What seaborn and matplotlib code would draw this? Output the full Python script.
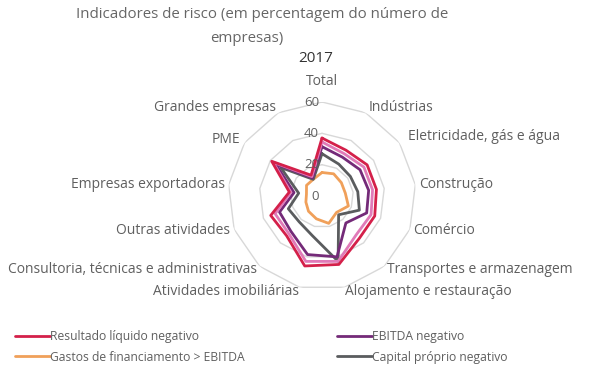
import numpy as np
import pandas as pd
import matplotlib
matplotlib.use("Agg")
import matplotlib.pyplot as plt
from matplotlib.lines import Line2D
from matplotlib.transforms import offset_copy
import seaborn as sns

sns.set_theme(style="white")
plt.rcParams["font.family"] = ["Open Sans", "DejaVu Sans"]

categories = ["Total", "Indústrias", "Eletricidade, gás e água", "Construção",
              "Comércio", "Transportes e armazenagem", "Alojamento e restauração",
              "Atividades imobiliárias", "Consultoria, técnicas e administrativas",
              "Outras atividades", "Empresas exportadoras", "PME", "Grandes empresas"]

resultado = [37, 33, 35, 35, 36, 36, 45, 46, 34, 35, 21, 39, 15]
extra_pink = [34.5, 30.5, 32.5, 32.5, 33.5, 33, 43, 43, 32, 32, 20, 38, 14]
ebitda = [31.5, 28, 29.5, 30, 30.5, 23, 40, 38.5, 30, 29, 18, 36, 13]
capital = [27, 23, 22, 23, 25.5, 16, 43, 26, 22, 23, 15, 32, 12]
gastos = [15, 16, 15, 15, 18, 14, 18, 15, 13, 11, 10, 12, 12]

series_names = ["Gastos de financiamento > EBITDA", "Capital próprio negativo",
                "EBITDA negativo", "_extra", "Resultado líquido negativo"]
series_values = [gastos, capital, ebitda, extra_pink, resultado]
palette = {"Resultado líquido negativo": "#d4204a",
           "_extra": "#e07ab8",
           "EBITDA negativo": "#742a78",
           "Capital próprio negativo": "#5a5c5e",
           "Gastos de financiamento > EBITDA": "#f0a05a"}

ticks = [0, 20, 40, 60]

n = len(categories)
theta = np.linspace(0, 2 * np.pi, n, endpoint=False)
theta_c = np.append(theta, 2 * np.pi)

rows = []
for name, vals in zip(series_names, series_values):
    vc = list(vals) + [vals[0]]
    for t, v in zip(theta_c, vc):
        rows.append({"theta": t, "value": v, "series": name})
df = pd.DataFrame(rows)

W, H = 605, 381
fig = plt.figure(figsize=(W / 100, H / 100), dpi=100)
cx, cy, R = 322, 196, 94
ax = fig.add_axes([(cx - R) / W, (H - cy - R) / H, 2 * R / W, 2 * R / H], projection="polar")
ax.set_theta_zero_location("N")
ax.set_theta_direction(-1)
ax.set_ylim(0, 60)
ax.grid(False)
ax.spines["polar"].set_visible(False)
ax.set_facecolor("none")

# polygon grid
for r in ticks[1:]:
    ax.plot(theta_c, [r] * len(theta_c), color="#d8d8d8", lw=1.0, zorder=1)

for name, vals in zip(series_names, series_values):
    sub = df[df["series"] == name]
    sns.lineplot(data=sub, x="theta", y="value", color=palette[name], sort=False,
                 estimator=None, ax=ax, lw=2.0, legend=False, zorder=3)

ax.set_xticks([])
ax.set_yticks([])
ax.set_xlabel("")
ax.set_ylabel("")
ax.set_ylim(0, 60)

lab_col = "#5f5f5f"
trans = offset_copy(ax.transData, fig=fig, x=-3, y=0, units="dots")
for r in ticks:
    ax.text(0, r, str(r), transform=trans, ha="right", va="center",
            fontsize=9.5, color=lab_col, zorder=4)

# category labels
radii = {1: 63.5, 2: 66.5, 11: 63.5, 12: 63.5}
for i, (t, lab) in enumerate(zip(theta, categories)):
    deg = np.degrees(t)
    if i == 0:
        ax.text(t, 68, lab, ha="center", va="bottom", fontsize=10, color=lab_col)
        continue
    ha = "left" if deg < 180 else "right"
    rr = radii.get(i, 62.5)
    ax.text(t, rr, lab, ha=ha, va="center", fontsize=10, color=lab_col)

# titles
fig.text(262 / W, 1 - 14 / H, "Indicadores de risco (em percentagem do número de",
         ha="center", va="center", fontsize=10.8, color="#666666")
fig.text(247 / W, 1 - 38 / H, "empresas)", ha="center", va="center",
         fontsize=10.8, color="#666666")
fig.text(316 / W, 1 - 58 / H, "2017", ha="center", va="center", fontsize=11,
         color="#333333")

# legends
def mk(name):
    return Line2D([], [], color=palette[name], lw=2)

common = dict(frameon=False, fontsize=8.7, handlelength=2.9, handletextpad=0.0,
              labelspacing=0.6, borderaxespad=0, borderpad=0)
leg1 = fig.legend([mk("Resultado líquido negativo"), mk("Gastos de financiamento > EBITDA")],
                  ["Resultado líquido negativo", "Gastos de financiamento > EBITDA"],
                  loc="center left", bbox_to_anchor=(15 / W, 1 - 347 / H), **common)
for t in leg1.get_texts():
    t.set_color(lab_col)
leg2 = fig.legend([mk("EBITDA negativo"), mk("Capital próprio negativo")],
                  ["EBITDA negativo", "Capital próprio negativo"],
                  loc="center left", bbox_to_anchor=(337 / W, 1 - 347 / H), **common)
for t in leg2.get_texts():
    t.set_color(lab_col)

fig.savefig("out.png", dpi=100)
